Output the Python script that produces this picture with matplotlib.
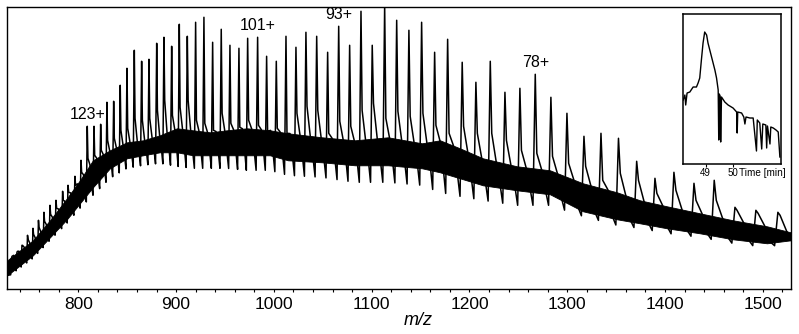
import numpy as np
import matplotlib.pyplot as plt

plt.rcParams['font.family'] = ['Liberation Sans', 'DejaVu Sans']

# charge state series (m/z, apex intensity, adduct shoulder intensity), arbitrary units
peak_mz = [731.7, 737.3, 742.4, 748.1, 753.7, 759.3, 764.9, 771.1, 777.2, 784.0,
           789.5, 796.6, 802.8, 809.2, 816.1, 822.9, 829.3, 836.2, 842.9, 849.8,
           857.3, 864.8, 872.3, 880.2, 887.6, 895.5, 903.3, 911.5, 920.0, 928.5,
           937.4, 946.2, 955.1, 964.3, 973.2, 983.4, 992.6, 1002.5, 1012.4, 1022.6,
           1032.8, 1043.8, 1055.0, 1066.3, 1077.5, 1089.1, 1100.6, 1113.3, 1125.6, 1138.1,
           1151.1, 1164.4, 1177.7, 1192.6, 1206.6, 1221.3, 1236.3, 1251.6, 1267.3, 1283.3,
           1299.7, 1317.1, 1334.5, 1352.4, 1371.0, 1389.7, 1409.1, 1429.6, 1450.3, 1471.5,
           1492.9, 1515.4]
peak_int = [31, 37, 44, 54, 61, 69, 77, 84, 89, 98,
            104, 113, 129, 163, 163, 165, 187, 188, 204, 221,
            239, 228, 230, 246, 252, 243, 265, 253, 267, 272,
            247, 260, 244, 241, 251, 252, 233, 228, 253, 242,
            257, 253, 237, 263, 244, 278, 244, 284, 269, 259,
            267, 237, 250, 227, 207, 228, 197, 201, 215, 192,
            176, 153, 156, 151, 128, 111, 117, 106, 109, 82,
            79, 77]
shoulder_int = [33, 38, 44, 50, 55, 62, 68, 75, 81, 89,
                97, 104, 117, 131, 134, 139, 149, 151, 159, 161,
                171, 169, 171, 179, 189, 174, 182, 189, 169, 166,
                159, 176, 166, 162, 169, 164, 158, 161, 156, 176,
                183, 179, 156, 168, 163, 179, 186, 171, 178, 173,
                176, 164, 156, 163, 156, 156, 149, 139, 136, 133,
                126, 123, 109, 116, 109, 96, 99, 89, 89, 79,
                76, 74]

# unresolved noise band: valley dips, dense lower edge, upper edge
band_mz = [727.4, 753.7, 771.1, 788.4, 801.7, 815.0, 832.4, 849.8, 866.2, 883.5,
           900.9, 917.3, 934.7, 952.0, 972.5, 996.0, 1014.4, 1049.2, 1082.9, 1116.7,
           1151.5, 1169.9, 1190.3, 1213.8, 1248.6, 1282.4, 1316.1, 1350.9, 1374.4, 1402.0,
           1435.7, 1469.5, 1504.3, 1528.5]
band_dip = [12, 31, 49, 66, 81, 94, 111, 121, 124, 126,
            123, 121, 121, 121, 119, 119, 114, 112, 107, 107,
            104, 97, 93, 89, 84, 84, 73, 64, 61, 56,
            52, 46, 42, 47]
band_floor = [14, 34, 52, 70, 86, 102, 121, 131, 134, 137,
              137, 134, 134, 134, 134, 134, 129, 127, 124, 124,
              121, 117, 111, 104, 99, 95, 78, 70, 66, 61,
              56, 50, 46, 49]
band_top = [29, 49, 69, 91, 109, 129, 139, 147, 149, 154,
            161, 159, 157, 159, 161, 159, 156, 152, 149, 152,
            146, 149, 141, 131, 123, 119, 106, 97, 89, 83,
            76, 69, 63, 57]

label_text = ['123+', '101+', '93+', '78+']
label_mz = [809.2, 983.4, 1066.3, 1267.3]

# inset: total ion chromatogram
tic_time = [48.19, 48.25, 48.28, 48.33, 48.43, 48.55, 48.67, 48.73, 48.79, 48.85,
            48.91, 48.97, 49.04, 49.09, 49.22, 49.34, 49.40, 49.46, 49.48, 49.50,
            49.53, 49.55, 49.58, 49.70, 49.82, 50.00, 50.13, 50.15, 50.17, 50.31,
            50.39, 50.43, 50.47, 50.61, 50.73, 50.85, 50.88, 50.97, 51.04, 51.08,
            51.19, 51.22, 51.25, 51.34, 51.37, 51.46, 51.56, 51.64, 51.70]
tic_int = [64, 69, 59, 71, 72, 77, 77, 81, 86, 104,
           121, 132, 129, 121, 107, 94, 86, 74, 24, 70,
           68, 22, 67, 62, 59, 56, 52, 31, 52, 51,
           47, 40, 47, 46, 46, 13, 44, 41, 15, 40,
           39, 16, 38, 20, 37, 36, 34, 32, 7]

fig = plt.figure(figsize=(7.99, 3.34), dpi=100)
ax = fig.add_axes([0.0091, 0.1338, 0.9805, 0.8462])

ax.fill_between(band_mz, band_floor, band_top, color='black', lw=0.6)

pk = np.array(peak_mz)
gaps = np.diff(pk)
gap_next = np.append(gaps, gaps[-1])
gap_prev = np.insert(gaps, 0, gaps[0])
xs = [band_mz[0]]
ys = [band_floor[0]]
for i in range(len(pk)):
    x_dip = pk[i] - 0.15 * gap_prev[i]
    x_sh = pk[i] + 0.1 * gap_next[i]
    x_top = pk[i] + 0.4 * gap_next[i]
    x_fl = pk[i] + 0.7 * gap_next[i]
    xs += [x_dip, pk[i], x_sh, x_top, x_fl]
    ys += [np.interp(x_dip, band_mz, band_dip), peak_int[i], shoulder_int[i],
           np.interp(x_top, band_mz, band_top), np.interp(x_fl, band_mz, band_floor)]
xs.append(band_mz[-1])
ys.append(band_floor[-1])
ax.plot(xs, ys, color='black', lw=1.1)

for lab, m in zip(label_text, label_mz):
    i = int(np.argmin(np.abs(pk - m)))
    ax.annotate(lab, (pk[i], peak_int[i]), xytext=(0, 3), textcoords='offset points',
                ha='center', va='bottom', fontsize=11.5)

ax.set_xlim(727.4, 1528.5)
ax.set_ylim(0, 282.6)
ax.set_yticks([])
ax.set_xticks(np.arange(800, 1501, 100))
ax.set_xticks(np.arange(740, 1521, 20), minor=True)
ax.tick_params(axis='x', which='both', direction='out', length=2.5, width=0.8,
               labelsize=12.5, pad=3)
for s in ax.spines.values():
    s.set_linewidth(1.0)
ax.text(0.524, -0.109, 'm/z', transform=ax.transAxes, ha='center', va='center',
        fontsize=13, fontstyle='italic')

ax_in = fig.add_axes([0.8544, 0.509, 0.1227, 0.449])
ax_in.plot(tic_time, tic_int, color='black', lw=1.0)
ax_in.set_xlim(48.17, 51.73)
ax_in.set_ylim(0, 150)
ax_in.set_yticks([])
ax_in.set_xticks([49, 50])
ax_in.tick_params(axis='x', direction='out', length=2, width=0.8, labelsize=7, pad=1)
for s in ax_in.spines.values():
    s.set_linewidth(1.1)
ax_in.text(0.572, -0.06, 'Time [min]', transform=ax_in.transAxes, ha='left', va='center',
           fontsize=7.2)

fig.savefig('out.png', dpi=100)
